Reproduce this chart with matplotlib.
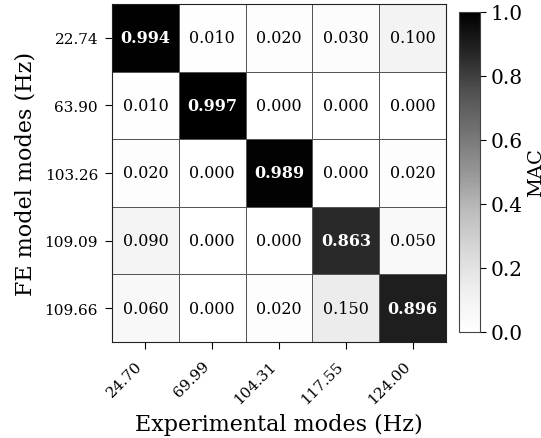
import numpy as np
import matplotlib
matplotlib.use("Agg")
import matplotlib.pyplot as plt

# MAC matrix between FE model modes (rows) and experimental modes (cols)
fe_freqs = ["22.74", "63.90", "103.26", "109.09", "109.66"]
exp_freqs = ["24.70", "69.99", "104.31", "117.55", "124.00"]
mac = np.array([
    [0.994, 0.010, 0.020, 0.030, 0.100],
    [0.010, 0.997, 0.000, 0.000, 0.000],
    [0.020, 0.000, 0.989, 0.000, 0.020],
    [0.090, 0.000, 0.000, 0.863, 0.050],
    [0.060, 0.000, 0.020, 0.150, 0.896],
])

plt.rcParams["font.family"] = "DejaVu Serif"

fig = plt.figure(figsize=(5.41, 4.39), dpi=100)
ax = fig.add_axes([112 / 541, 1 - 343 / 439, 334 / 541, 338 / 439])
cax = fig.add_axes([459 / 541, 1 - 333 / 439, 21 / 541, 320 / 439])

mesh = ax.pcolormesh(mac, cmap="Greys", vmin=0, vmax=1,
                     edgecolors="#555555", linewidth=0.6)
ax.set_xlim(0, 5)
ax.set_ylim(5, 0)

for i in range(mac.shape[0]):
    for j in range(mac.shape[1]):
        v = mac[i, j]
        if v > 0.5:
            ax.text(j + 0.5, i + 0.5, f"{v:.3f}", ha="center", va="center",
                    color="white", fontsize=11.5, fontweight="bold")
        else:
            ax.text(j + 0.5, i + 0.5, f"{v:.3f}", ha="center", va="center",
                    color="black", fontsize=11.5)

ax.set_xticks(np.arange(5) + 0.5)
ax.set_xticklabels(exp_freqs, rotation=45, ha="right", fontsize=11)
ax.set_yticks(np.arange(5) + 0.5)
ax.set_yticklabels(fe_freqs, fontsize=11)
ax.tick_params(length=5, pad=5)
ax.tick_params(axis="x", pad=7)
ax.set_xlabel("Experimental modes (Hz)", fontsize=16, labelpad=5)
ax.set_ylabel("FE model modes (Hz)", fontsize=16, labelpad=6)
for s in ax.spines.values():
    s.set_color("#222222")

cb = fig.colorbar(mesh, cax=cax)
cb.set_ticks([0, 0.2, 0.4, 0.6, 0.8, 1.0])
cb.ax.tick_params(labelsize=14.5, length=4, pad=3.5)
cb.set_label("MAC", fontsize=14, labelpad=3)
cb.outline.set_edgecolor("#444444")

fig.savefig("out.png", dpi=100)
